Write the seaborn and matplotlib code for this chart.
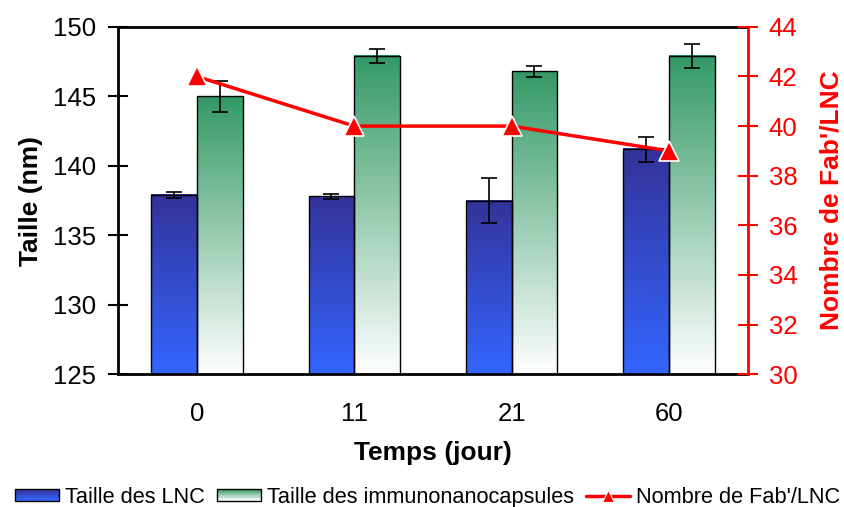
import numpy as np
import pandas as pd
import matplotlib
matplotlib.use('Agg')
import matplotlib.pyplot as plt
import seaborn as sns
from matplotlib.colors import LinearSegmentedColormap
from matplotlib.patches import Rectangle
from matplotlib.lines import Line2D
from matplotlib.legend_handler import HandlerBase

# Data
jours = ['0', '11', '21', '60']
taille_lnc = [137.9, 137.8, 137.5, 141.2]
err_lnc = [0.2, 0.2, 1.6, 0.9]
taille_immuno = [145.0, 147.9, 146.8, 147.9]
err_immuno = [1.1, 0.5, 0.4, 0.85]
nb_fab = [42, 40, 40, 39]

lab_lnc = 'Taille des LNC'
lab_immuno = 'Taille des immunonanocapsules'
lab_fab = "Nombre de Fab'/LNC"

sns.set_style("white", {'text.color': 'black', 'axes.labelcolor': 'black',
                        'xtick.color': 'black', 'ytick.color': 'black'})
plt.rcParams['font.family'] = ['Liberation Sans', 'DejaVu Sans']

# colours: top of bar -> bottom of bar
grad_lnc = ('#333399', '#3366ff')
grad_immuno = ('#339966', '#ffffff')

df = pd.DataFrame({
    'jour': jours * 2,
    'taille': taille_lnc + taille_immuno,
    'serie': [lab_lnc] * 4 + [lab_immuno] * 4,
})

fig, ax = plt.subplots(figsize=(8.44, 5.07), dpi=100)
fig.subplots_adjust(left=0.140, right=0.886, top=0.947, bottom=0.262)

sns.barplot(data=df, x='jour', y='taille', hue='serie', order=jours,
            hue_order=[lab_lnc, lab_immuno], width=0.58, gap=0,
            edgecolor='black', linewidth=1.0, legend=False, ax=ax)

ymin, ymax = 125, 150
grad = np.linspace(0, 1, 256).reshape(-1, 1)
for cont, cols, errs in zip(ax.containers, [grad_lnc, grad_immuno], [err_lnc, err_immuno]):
    cmap = LinearSegmentedColormap.from_list('g', [cols[1], cols[0]])
    for bar, e in zip(cont, errs):
        x0, w, top = bar.get_x(), bar.get_width(), bar.get_height()
        bar.set_facecolor('none')
        bar.set_zorder(3)
        ax.imshow(grad, extent=[x0, x0 + w, ymin, top], origin='lower',
                  aspect='auto', cmap=cmap, zorder=2, interpolation='bilinear')
        ax.errorbar(x0 + w / 2, top, yerr=e, fmt='none', ecolor='black',
                    elinewidth=1.2, capsize=6, capthick=1.2, zorder=4)

ax.set_xlim(-0.5, 3.5)
ax.set_ylim(ymin, ymax)
ax.set_yticks(range(125, 151, 5))
ax.set_xlabel('Temps (jour)', fontsize=19, fontweight='bold', labelpad=11)
ax.set_ylabel('Taille (nm)', fontsize=19, fontweight='bold', labelpad=7)
ax.tick_params(axis='y', direction='inout', length=14, width=1.5,
               labelsize=18.5, left=True, pad=9)
ax.tick_params(axis='x', length=0, labelsize=18.5, pad=20)
for s in ['left', 'bottom', 'top']:
    ax.spines[s].set_linewidth(2)
    ax.spines[s].set_color('black')

# second axis: number of Fab' per LNC
ax2 = ax.twinx()
sns.lineplot(x=np.arange(len(jours)), y=nb_fab, color='#ff0000', linewidth=2.5,
             marker='^', markersize=14, markeredgecolor='white',
             markeredgewidth=1.2, ax=ax2)
ax2.set_ylim(30, 44)
ax2.set_yticks(range(30, 45, 2))
ax2.set_xlim(-0.5, 3.5)
ax2.set_ylabel(lab_fab, fontsize=19, fontweight='bold', color='#ff0000', labelpad=16)
ax2.tick_params(axis='y', direction='inout', length=14, width=1.5,
                labelsize=18.5, colors='#ff0000', right=True, pad=8)
ax2.spines['right'].set_color('#ff0000')
ax2.spines['right'].set_linewidth(2)
for s in ['left', 'bottom', 'top']:
    ax2.spines[s].set_visible(False)


class GradientHandler(HandlerBase):
    def __init__(self, cols, n=20):
        super().__init__()
        self.cols = cols
        self.n = n

    def create_artists(self, legend, orig_handle, xdescent, ydescent,
                       width, height, fontsize, trans):
        cmap = LinearSegmentedColormap.from_list('g', [self.cols[1], self.cols[0]])
        arts = []
        for i in range(self.n):
            r = Rectangle((-xdescent, -ydescent + height * i / self.n), width,
                          height / self.n, facecolor=cmap(i / (self.n - 1)),
                          edgecolor='none', transform=trans)
            arts.append(r)
        arts.append(Rectangle((-xdescent, -ydescent), width, height,
                              facecolor='none', edgecolor='black', linewidth=1,
                              transform=trans))
        return arts


h1 = Rectangle((0, 0), 1, 1)
h2 = Rectangle((0, 0), 1, 1)
h3 = Line2D([], [], color='#ff0000', linewidth=2.5, marker='^', markersize=9,
            markeredgecolor='white', markeredgewidth=0.8)
fig.legend([h1, h2, h3], [lab_lnc, lab_immuno, lab_fab], loc='lower center',
           bbox_to_anchor=(0.507, -0.04), ncol=3, frameon=False, fontsize=15.7,
           handlelength=2.0, handleheight=0.45, handletextpad=0.3,
           columnspacing=0.55,
           handler_map={h1: GradientHandler(grad_lnc), h2: GradientHandler(grad_immuno)})

fig.savefig('out.png', dpi=100)
